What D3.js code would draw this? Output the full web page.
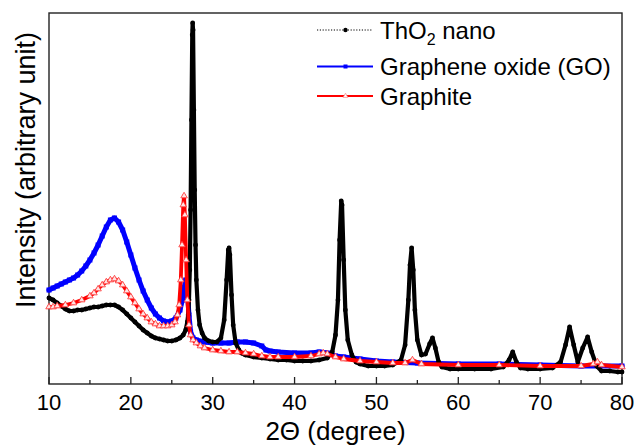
<!DOCTYPE html>
<html>
<head>
<meta charset="utf-8">
<script src="https://cdn.jsdelivr.net/npm/d3@7/dist/d3.min.js"></script>
<style>
  html, body { margin: 0; padding: 0; background: #fff; }
  svg { display: block; }
  text { font-family: Arial, "Liberation Sans", sans-serif; fill: #000; }
</style>
</head>
<body>
<svg id="chart" width="635" height="447"></svg>
<script>
// XRD patterns: [2θ (degree), intensity (arbitrary unit)]
const thO2Nano = [
  [10.0,860],[10.5,840],[11.0,810],[11.5,780],[12.0,750],[12.5,730],[13.0,730],[13.5,740],
  [14.0,740],[14.5,750],[15.0,760],[15.5,770],[16.0,770],[16.5,780],[17.0,790],[17.5,790],
  [18.0,790],[18.5,770],[19.0,740],[19.5,700],[20.0,660],[20.5,620],[21.0,580],[21.5,540],
  [22.0,510],[22.5,480],[23.0,460],[23.5,450],[24.0,440],[24.5,430],[25.0,430],[25.5,440],
  [26.0,460],[26.4,490],[26.7,540],[26.9,620],[27.0,690],[27.1,840],[27.2,1140],[27.3,1740],
  [27.4,2640],[27.5,3490],[27.55,3610],[27.6,3540],[27.7,2740],[27.8,1940],[27.9,1390],
  [28.0,1040],[28.2,740],[28.4,590],[28.7,510],[29.0,460],[29.5,430],[30.0,420],[30.5,420],
  [31.0,460],[31.4,640],[31.7,1040],[31.9,1340],[32.0,1360],[32.1,1290],[32.3,890],[32.5,590],
  [32.8,410],[33.2,340],[33.5,310],[34.0,290],[35.0,270],[36.0,260],[37.0,250],[38.0,240],
  [39.0,240],[40.0,230],[41.0,230],[42.0,230],[43.0,240],[44.0,260],[44.6,320],[45.0,490],
  [45.3,840],[45.5,1440],[45.7,1830],[45.8,1790],[46.0,1240],[46.2,740],[46.5,440],[47.0,290],
  [47.5,220],[48.0,200],[49.0,180],[50.0,180],[51.0,180],[52.0,190],[53.0,240],[53.5,390],
  [53.9,840],[54.1,1190],[54.3,1360],[54.5,1140],[54.7,740],[55.0,440],[55.5,290],[56.0,300],
  [56.5,400],[56.85,460],[57.2,360],[57.6,220],[58.0,170],[59.0,150],[60.0,150],[62.0,150],
  [64.0,150],[65.5,170],[66.2,240],[66.65,320],[67.1,220],[67.6,160],[68.5,150],[70.0,150],
  [71.5,160],[72.5,220],[73.1,390],[73.6,570],[74.1,390],[74.6,220],[75.2,360],[75.8,470],
  [76.3,320],[76.9,180],[77.5,130],[78.5,130],[79.5,120],[80.0,120]
];

const grapheneOxide = [
  [10.0,940],[10.5,960],[11.0,980],[11.5,1000],[12.0,1020],[12.5,1040],[13.0,1060],[13.5,1090],
  [14.0,1130],[14.5,1180],[15.0,1240],[15.5,1310],[16.0,1390],[16.5,1480],[17.0,1570],[17.5,1640],
  [18.0,1660],[18.5,1620],[19.0,1540],[19.5,1420],[20.0,1290],[20.5,1160],[21.0,1040],[21.5,930],
  [22.0,840],[22.5,760],[23.0,700],[23.5,660],[24.0,630],[24.5,620],[25.0,630],[25.5,660],
  [26.0,740],[26.3,840],[26.5,960],[26.7,1040],[26.9,940],[27.1,690],[27.3,520],[27.6,460],
  [28.0,440],[29.0,420],[30.0,410],[31.0,410],[32.0,410],[33.0,420],[34.0,420],[35.0,410],
  [36.0,380],[36.5,340],[37.0,330],[38.0,320],[40.0,310],[42.0,310],[43.0,320],[44.0,310],
  [45.0,280],[46.0,270],[48.0,250],[50.0,230],[52.0,220],[55.0,210],[60.0,200],[65.0,200],
  [70.0,190],[75.0,180],[80.0,180]
];

const graphite = [
  [10.0,770],[10.5,770],[11.0,780],[12.0,790],[13.0,810],[14.0,840],[15.0,880],[15.5,910],
  [16.0,950],[16.5,990],[17.0,1020],[17.5,1040],[18.0,1050],[18.5,1030],[19.0,990],[19.5,930],
  [20.0,870],[20.5,810],[21.0,750],[21.5,700],[22.0,660],[22.5,620],[23.0,600],[23.5,580],
  [24.0,580],[24.5,580],[25.0,590],[25.4,620],[25.7,690],[25.9,790],[26.1,1040],[26.25,1390],
  [26.4,1790],[26.5,1880],[26.6,1690],[26.75,1240],[26.9,840],[27.1,590],[27.3,490],[27.6,440],
  [28.0,410],[28.5,380],[29.0,360],[30.0,340],[31.0,330],[32.0,320],[33.0,320],[34.0,310],
  [35.0,300],[36.0,280],[37.0,270],[38.0,270],[40.0,270],[42.0,280],[43.0,300],[43.5,310],
  [44.0,300],[45.0,270],[46.0,250],[48.0,230],[50.0,220],[52.0,210],[53.5,210],[54.4,240],
  [55.5,200],[60.0,190],[65.0,190],[70.0,180],[75.0,180],[76.5,200],[77.0,220],[77.5,190],
  [80.0,170]
];

const xTicks = [10, 20, 30, 40, 50, 60, 70, 80];
const xMinorTicks = [15, 25, 35, 45, 55, 65, 75];
const legendLabels = ["ThO2 nano", "Graphene oxide (GO)", "Graphite"];

const svg = d3.select("#chart");
const plotLeft = 49, plotRight = 622, plotTop = 13, plotBottom = 384;

const x = d3.scaleLinear().domain([10, 80]).range([plotLeft, plotRight]);
const y = d3.scaleLinear().domain([0, 3710]).range([plotBottom, plotTop]);

const line = d3.line().x(d => x(d[0])).y(d => y(d[1]));

// plot frame
svg.append("rect")
  .attr("x", plotLeft).attr("y", plotTop)
  .attr("width", plotRight - plotLeft).attr("height", plotBottom - plotTop)
  .attr("fill", "none").attr("stroke", "#222").attr("stroke-width", 1.4);

const plot = svg.append("g");

// Graphene oxide: blue squares
plot.append("path").datum(grapheneOxide)
  .attr("d", line).attr("fill", "none")
  .attr("stroke", "#0000ff").attr("stroke-width", 5)
  .attr("stroke-linejoin", "round").attr("stroke-linecap", "round");
plot.append("g").selectAll("rect").data(grapheneOxide).join("rect")
  .attr("x", d => x(d[0]) - 2.5).attr("y", d => y(d[1]) - 2.5)
  .attr("width", 5).attr("height", 5).attr("fill", "#0000ff");

// ThO2 nano: black circles
plot.append("path").datum(thO2Nano)
  .attr("d", line).attr("fill", "none")
  .attr("stroke", "#000").attr("stroke-width", 4.2)
  .attr("stroke-linejoin", "round").attr("stroke-linecap", "round");
plot.append("g").selectAll("circle").data(thO2Nano).join("circle")
  .attr("cx", d => x(d[0])).attr("cy", d => y(d[1]))
  .attr("r", 2.4).attr("fill", "#000");

// Graphite: red open triangles
plot.append("path").datum(graphite)
  .attr("d", line).attr("fill", "none")
  .attr("stroke", "#ff0000").attr("stroke-width", 3.8)
  .attr("stroke-linejoin", "round").attr("stroke-linecap", "round");
const tri = d3.symbol().type(d3.symbolTriangle).size(18);
plot.append("g").selectAll("path").data(graphite).join("path")
  .attr("transform", d => `translate(${x(d[0])},${y(d[1])})`)
  .attr("d", tri).attr("fill", "#ffe4e4").attr("stroke", "#ff3030").attr("stroke-width", 0.8);

// x axis: inward ticks
const xAxis = svg.append("g").attr("transform", `translate(0,${plotBottom})`);
xAxis.selectAll("line.major").data(xTicks).join("line")
  .attr("class", "major")
  .attr("x1", d => x(d)).attr("x2", d => x(d))
  .attr("y1", 0).attr("y2", -7).attr("stroke", "#222").attr("stroke-width", 1.3);
xAxis.selectAll("line.minor").data(xMinorTicks).join("line")
  .attr("class", "minor")
  .attr("x1", d => x(d)).attr("x2", d => x(d))
  .attr("y1", 0).attr("y2", -4).attr("stroke", "#222").attr("stroke-width", 1.3);
xAxis.selectAll("text").data(xTicks).join("text")
  .attr("x", d => x(d)).attr("y", 26)
  .attr("text-anchor", "middle").attr("font-size", 22)
  .text(d => d);

// axis titles
svg.append("text")
  .attr("x", (plotLeft + plotRight) / 2).attr("y", 440)
  .attr("text-anchor", "middle").attr("font-size", 26)
  .text("2Θ (degree)");
svg.append("text")
  .attr("transform", "translate(35,170) rotate(-90)")
  .attr("text-anchor", "middle").attr("font-size", 27)
  .text("Intensity (arbitrary unit)");

// legend
const lg = svg.append("g");
const lx1 = 317, lx2 = 373, lmid = 345.5, ltx = 380;
const rows = [30, 66.5, 96];

lg.append("line").attr("x1", lx1).attr("x2", lx2).attr("y1", rows[0]).attr("y2", rows[0])
  .attr("stroke", "#000").attr("stroke-width", 1).attr("stroke-dasharray", "1.2,1.6");
lg.append("circle").attr("cx", lmid).attr("cy", rows[0]).attr("r", 2.2).attr("fill", "#000");

lg.append("line").attr("x1", lx1).attr("x2", lx2).attr("y1", rows[1]).attr("y2", rows[1])
  .attr("stroke", "#0000ff").attr("stroke-width", 2);
lg.append("rect").attr("x", lmid - 2).attr("y", rows[1] - 2).attr("width", 4).attr("height", 4).attr("fill", "#0000ff");

lg.append("line").attr("x1", lx1).attr("x2", lx2).attr("y1", rows[2]).attr("y2", rows[2])
  .attr("stroke", "#ff0000").attr("stroke-width", 2);
lg.append("path").attr("transform", `translate(${lmid},${rows[2]})`)
  .attr("d", d3.symbol().type(d3.symbolTriangle).size(10))
  .attr("fill", "#fff").attr("stroke", "#ff8080").attr("stroke-width", 0.7);

const t0 = lg.append("text").attr("x", ltx).attr("y", rows[0] + 8.5).attr("font-size", 24);
t0.append("tspan").text("ThO");
t0.append("tspan").attr("font-size", 16).attr("dy", 6).text("2");
t0.append("tspan").attr("dy", -6).text(" nano");
lg.append("text").attr("x", ltx).attr("y", rows[1] + 8.5).attr("font-size", 24).text(legendLabels[1]);
lg.append("text").attr("x", ltx).attr("y", rows[2] + 8.5).attr("font-size", 24).text(legendLabels[2]);
</script>
</body>
</html>
